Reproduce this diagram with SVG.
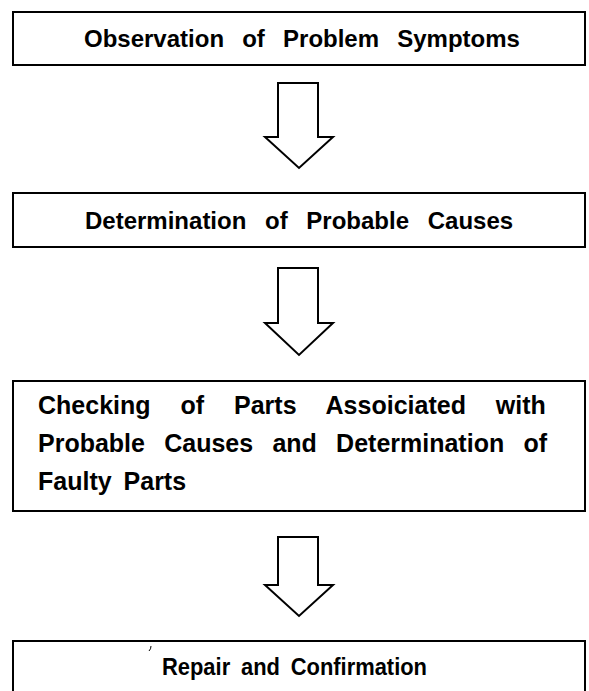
<svg xmlns="http://www.w3.org/2000/svg" width="589" height="691" viewBox="0 0 589 691">
<style>
.box{fill:#fff;stroke:#000;stroke-width:2}
.arr{fill:#fff;stroke:#000;stroke-width:2;stroke-linejoin:miter}
.t{font-family:"Liberation Sans",Arial,sans-serif;font-weight:bold;font-size:24px;fill:#000}
.t3{font-size:25px}
.t4{font-size:23px}
</style>
<rect width="589" height="691" fill="#fff"/>
<g id="connectors">
<path class="arr" d="M278,83 L318,83 L318,137 L333,137 L299,168 L265,137 L278,137 Z"/>
<path class="arr" d="M278,268 L318,268 L318,323 L333,323 L299,355 L265,323 L278,323 Z"/>
<path class="arr" d="M278,537 L318,537 L318,585 L333,585 L299,616 L265,585 L278,585 Z"/>
</g>
<g id="n1">
<rect class="box" x="13" y="12" width="572" height="53"/>
<text class="t" x="84" y="47" word-spacing="11.5">Observation of Problem Symptoms</text>
</g>
<g id="n2">
<rect class="box" x="13" y="193" width="572" height="54"/>
<text class="t" x="85" y="229" word-spacing="12">Determination of Probable Causes</text>
</g>
<g id="n3">
<rect class="box" x="13" y="381" width="572" height="130"/>
<text class="t t3" x="38" y="414" word-spacing="23">Checking of Parts Assoiciated with</text>
<text class="t t3" x="38" y="452" word-spacing="12.3">Probable Causes and Determination of</text>
<text class="t t3" x="38" y="490" word-spacing="5">Faulty Parts</text>
</g>
<g id="n4">
<path class="box" d="M13,700 L13,641 L585,641 L585,700"/>
<path d="M151,646 Q151,649 149,651" fill="none" stroke="#000" stroke-width="1"/>
<text class="t t4" x="162" y="675" word-spacing="5" textLength="265" lengthAdjust="spacingAndGlyphs">Repair and Confirmation</text>
</g>
</svg>
